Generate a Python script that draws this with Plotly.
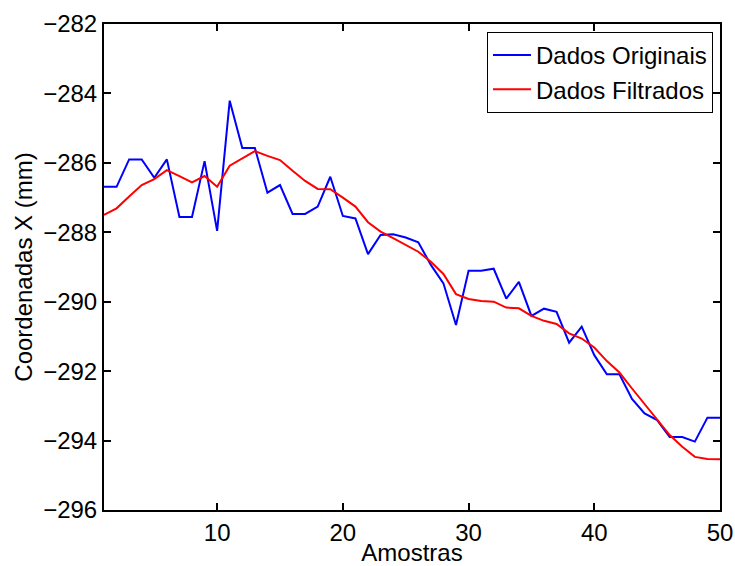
import plotly.graph_objects as go

amostras = list(range(1, 51))

dados_originais = [
    -286.69, -286.69, -285.90, -285.90, -286.43, -285.90, -287.56, -287.56, -285.95, -287.96,
    -284.21, -285.57, -285.57, -286.86, -286.64, -287.47, -287.47, -287.26, -286.40, -287.53,
    -287.60, -288.63, -288.08, -288.06, -288.15, -288.29, -288.94, -289.47, -290.67, -289.11,
    -289.11, -289.05, -289.91, -289.43, -290.41, -290.20, -290.29, -291.18, -290.72, -291.54,
    -292.09, -292.09, -292.80, -293.22, -293.41, -293.90, -293.90, -294.03, -293.34, -293.34,
]

dados_filtrados = [
    -287.50, -287.31, -286.97, -286.64, -286.47, -286.21, -286.38, -286.56, -286.38, -286.69,
    -286.08, -285.87, -285.66, -285.80, -285.92, -286.23, -286.52, -286.75, -286.76, -287.00,
    -287.26, -287.71, -287.98, -288.17, -288.37, -288.56, -288.85, -289.20, -289.78, -289.92,
    -289.98, -290.00, -290.17, -290.19, -290.41, -290.55, -290.64, -290.91, -291.06, -291.32,
    -291.71, -292.04, -292.50, -292.95, -293.39, -293.84, -294.18, -294.47, -294.53, -294.54,
]

x_ticks = [10, 20, 30, 40, 50]
y_ticks = [-296, -294, -292, -290, -288, -286, -284, -282]

FONT = "Liberation Sans, Arial, Helvetica, sans-serif"
FS = 24

fig = go.Figure()
fig.add_trace(go.Scatter(x=amostras, y=dados_originais, mode="lines",
                         name="Dados Originais", line=dict(color="#0000ff", width=2)))
fig.add_trace(go.Scatter(x=amostras, y=dados_filtrados, mode="lines",
                         name="Dados Filtrados", line=dict(color="#ff0000", width=2)))

axis_common = dict(
    showgrid=False, zeroline=False, showline=True, linecolor="black", linewidth=2,
    mirror="ticks", ticks="inside", ticklen=7, tickwidth=1.5, tickcolor="black",
    tickfont=dict(family=FONT, size=FS, color="black"), automargin=False,
)

fig.update_xaxes(range=[1, 50], tickvals=x_ticks, ticktext=[str(v) for v in x_ticks],
                 title=dict(text="Amostras", font=dict(family=FONT, size=FS, color="black"),
                            standoff=0),
                 **axis_common)
fig.update_yaxes(range=[-296, -282], tickvals=y_ticks,
                 ticktext=["\u2212" + str(abs(v)) for v in y_ticks],
                 title=dict(text="Coordenadas X (mm)", font=dict(family=FONT, size=FS, color="black"),
                            standoff=4),
                 **axis_common)

fig.update_layout(
    width=735, height=566,
    margin=dict(l=104, r=15, t=24, b=56),
    plot_bgcolor="white", paper_bgcolor="white",
    font=dict(family=FONT, size=FS, color="black"),
    legend=dict(x=0.9886, y=0.9835, xanchor="right", yanchor="top",
                bgcolor="white", bordercolor="black", borderwidth=1,
                font=dict(family=FONT, size=FS, color="black"),
                tracegroupgap=0, itemwidth=38),
    showlegend=True,
)

fig.write_html("out.html")
